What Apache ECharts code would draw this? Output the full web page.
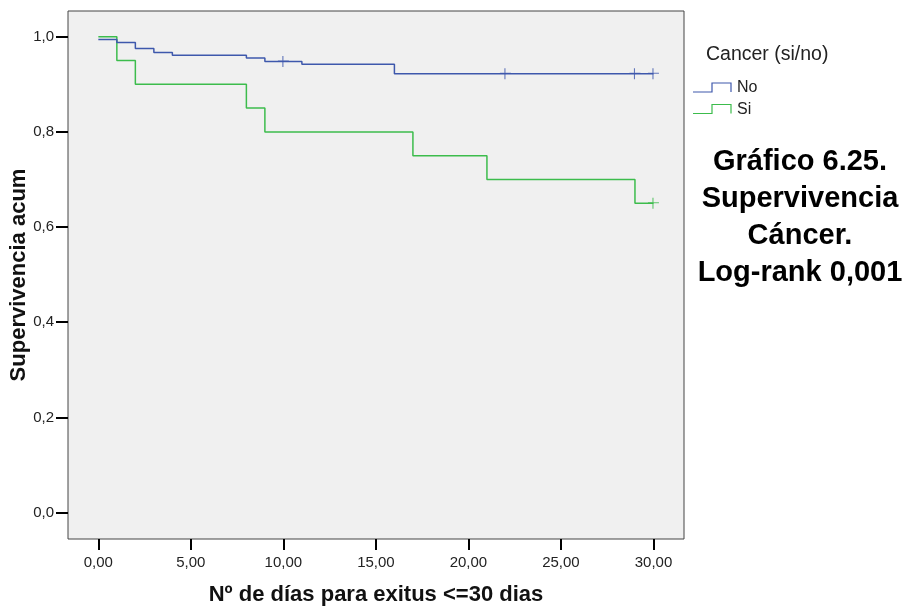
<!DOCTYPE html>
<html>
<head>
<meta charset="utf-8">
<script src="https://cdn.jsdelivr.net/npm/echarts@6/dist/echarts.min.js"></script>
<style>
  html, body { margin: 0; padding: 0; background: #ffffff; }
  #chart { width: 910px; height: 606px; }
</style>
</head>
<body>
<div id="chart"></div>
<script>
// Kaplan-Meier survival, 30-day mortality, by cancer status
const xTicks = [0, 5, 10, 15, 20, 25, 30];
const yTicks = [0, 0.2, 0.4, 0.6, 0.8, 1.0];

// "No" group: event times and cumulative survival after each time
const noTimes = [0, 1, 2, 3, 4, 8, 9, 11, 16, 30];
const noSurv = [0.994, 0.988, 0.975, 0.967, 0.961, 0.955, 0.948, 0.942, 0.922, 0.922];
const noCensored = [10, 22, 29, 30];

// "Si" group
const siTimes = [0, 1, 2, 8, 9, 17, 21, 29, 30];
const siSurv = [1.0, 0.95, 0.90, 0.85, 0.80, 0.75, 0.70, 0.65, 0.65];
const siCensored = [30];

const groupNames = ['No', 'Si'];
const legendTitle = 'Cancer (si/no)';
const sideTitle = 'Gráfico 6.25.\nSupervivencia\nCáncer.\nLog-rank 0,001';

const FONT = 'Liberation Sans, Arial, Helvetica, sans-serif';
const BLUE = '#3e58ac';
const GREEN = '#3cbc4c';

function stepPairs(times, surv) {
  return times.map((t, i) => [t, surv[i]]);
}
// survival value in force at time t (step function)
function survAt(times, surv, t) {
  let v = surv[0];
  for (let i = 0; i < times.length; i++) { if (times[i] <= t) v = surv[i]; }
  return v;
}
function censorPoints(times, surv, cens) {
  return cens.map(t => [t, survAt(times, surv, t)]);
}

const PLUS = 'path://M0,4.45H11V5.55H0Z M4.45,0H5.55V11H4.45Z';

const chart = echarts.init(document.getElementById('chart'), null, { renderer: 'canvas' });

chart.setOption({
  animation: false,
  backgroundColor: '#ffffff',
  grid: {
    left: 68, right: 226, top: 11, bottom: 67,
    containLabel: false, outerBoundsMode: 'none',
    show: true, backgroundColor: '#f0f0f0',
    borderColor: '#444444', borderWidth: 1
  },
  xAxis: {
    type: 'value', min: -1.64, max: 31.65,
    name: 'Nº de días para exitus <=30 dias',
    nameLocation: 'middle', nameGap: 45, nameMoveOverlap: false,
    nameTextStyle: { fontFamily: FONT, fontWeight: 'bold', fontSize: 22, color: '#111' },
    axisLine: { show: false, onZero: false },
    splitLine: { show: false },
    axisTick: {
      show: true, length: 11, customValues: xTicks,
      lineStyle: { color: '#000', width: 2 }
    },
    axisLabel: {
      customValues: xTicks, margin: 16,
      fontFamily: FONT, fontSize: 15, color: '#222',
      formatter: v => v.toFixed(2).replace('.', ',')
    }
  },
  yAxis: {
    type: 'value', min: -0.0555, max: 1.054,
    name: 'Supervivencia acum',
    nameLocation: 'middle', nameGap: 38, nameMoveOverlap: false,
    nameTextStyle: { fontFamily: FONT, fontWeight: 'bold', fontSize: 22, color: '#111' },
    axisLine: { show: false, onZero: false },
    splitLine: { show: false },
    axisTick: {
      show: true, length: 12, customValues: yTicks,
      lineStyle: { color: '#000', width: 2 }
    },
    axisLabel: {
      customValues: yTicks, margin: 14,
      fontFamily: FONT, fontSize: 15, color: '#222',
      formatter: v => v.toFixed(1).replace('.', ',')
    }
  },
  series: [
    {
      name: groupNames[0], type: 'line', step: 'end', showSymbol: false,
      data: stepPairs(noTimes, noSurv),
      lineStyle: { color: BLUE, width: 1.5 }, z: 3
    },
    {
      name: groupNames[1], type: 'line', step: 'end', showSymbol: false,
      data: stepPairs(siTimes, siSurv),
      lineStyle: { color: GREEN, width: 1.5 }, z: 2
    },
    {
      name: groupNames[0] + ' censurado', type: 'scatter', symbol: PLUS, symbolSize: 11,
      data: censorPoints(noTimes, noSurv, noCensored),
      itemStyle: { color: BLUE }, z: 4
    },
    {
      name: groupNames[1] + ' censurado', type: 'scatter', symbol: PLUS, symbolSize: 11,
      data: censorPoints(siTimes, siSurv, siCensored),
      itemStyle: { color: GREEN }, z: 4
    }
  ],
  graphic: [
    {
      type: 'text', left: 706, top: 45,
      style: { text: legendTitle, fontFamily: FONT, fontSize: 19.5, fill: '#222' }
    },
    {
      type: 'polyline',
      shape: { points: [[693, 92], [712, 92], [712, 83], [731, 83], [731, 92]] },
      style: { stroke: BLUE, lineWidth: 1.2, fill: null }
    },
    {
      type: 'text', left: 737, top: 80,
      style: { text: groupNames[0], fontFamily: FONT, fontSize: 16, fill: '#222' }
    },
    {
      type: 'polyline',
      shape: { points: [[693, 113.5], [712, 113.5], [712, 104.5], [731, 104.5], [731, 113.5]] },
      style: { stroke: GREEN, lineWidth: 1.2, fill: null }
    },
    {
      type: 'text', left: 737, top: 102,
      style: { text: groupNames[1], fontFamily: FONT, fontSize: 16, fill: '#222' }
    },
    {
      type: 'text', x: 800, y: 143,
      style: {
        text: sideTitle, fontFamily: FONT, fontWeight: 'bold', fontSize: 29,
        lineHeight: 37, align: 'center', verticalAlign: 'top', fill: '#000'
      }
    }
  ]
});
</script>
</body>
</html>
